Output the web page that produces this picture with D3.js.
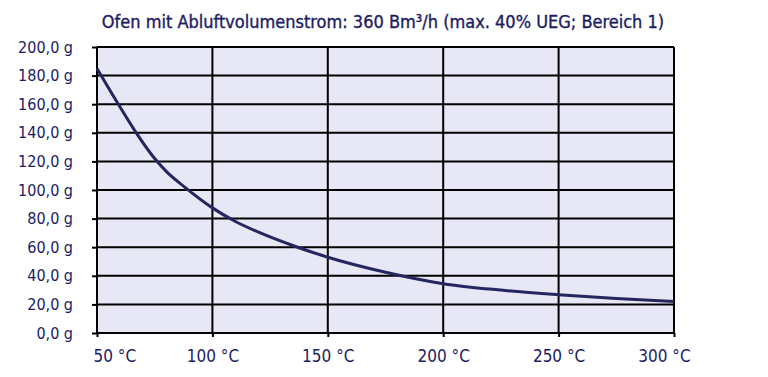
<!DOCTYPE html>
<html lang="de">
<head>
<meta charset="UTF-8">
<title>Ofen mit Abluftvolumenstrom</title>
<script src="https://d3js.org/d3.v7.min.js"></script>
<style>
    body { margin: 0; background: #fff; }
    text { font-family: "DejaVu Sans Condensed", "DejaVu Sans", sans-serif; font-stretch: condensed; fill: #1c1c62; }
    .title { font-size: 18px; stroke: #1c1c62; stroke-width: 0.35px; }
    .axis text { font-size: 17px; }
    .y.axis text { font-size: 16px; }
    .axis .domain { display: none; }
    .axis line { stroke: #000; stroke-width: 2; }
</style>
</head>
<body>
<div id="chart"></div>
<script>
    const chartTitle = "Ofen mit Abluftvolumenstrom: 360 Bm³/h (max. 40% UEG; Bereich 1)";
    const temps  = [50, 60, 67, 75, 80, 88, 100, 110, 120, 136, 150, 175, 200, 225, 250, 275, 300];
    const masses = [185, 158, 140, 122, 113, 102, 87.5, 78, 70.5, 60.5, 53, 42.5, 34.5, 30, 26.8, 24.2, 22];
    const xTicks = [50, 100, 150, 200, 250, 300];
    const yTicks = [0, 20, 40, 60, 80, 100, 120, 140, 160, 180, 200];

    const W = 768, H = 377;
    const margin = { top: 47, right: 94, bottom: 44, left: 97 };
    const width = W - margin.left - margin.right;
    const height = H - margin.top - margin.bottom;

    const svg = d3.select("#chart").append("svg")
        .attr("width", W)
        .attr("height", H);

    const title = svg.append("text")
        .attr("class", "title")
        .attr("x", 383)
        .attr("y", 28)
        .attr("text-anchor", "middle")
        .text(chartTitle);

    const g = svg.append("g")
        .attr("transform", `translate(${margin.left},${margin.top})`);

    const x = d3.scaleLinear().domain([50, 300]).range([0, width]);
    const y = d3.scaleLinear().domain([0, 200]).range([height, 0]);

    // plot background
    g.append("rect")
        .attr("width", width)
        .attr("height", height)
        .attr("fill", "#e7e7f5");

    // grid lines
    g.append("g").selectAll("line")
        .data(yTicks)
        .join("line")
        .attr("x1", 0).attr("x2", width)
        .attr("y1", d => y(d)).attr("y2", d => y(d))
        .attr("stroke", "#000").attr("stroke-width", 2);

    g.append("g").selectAll("line")
        .data(xTicks)
        .join("line")
        .attr("x1", d => x(d)).attr("x2", d => x(d))
        .attr("y1", 0).attr("y2", height)
        .attr("stroke", "#000").attr("stroke-width", 2);

    // axes
    const yAxis = g.append("g")
        .attr("class", "y axis")
        .call(d3.axisLeft(y).tickValues(yTicks).tickSize(5).tickPadding(19)
            .tickFormat(d => d3.format(".1f")(d).replace(".", ",") + " g"));

    const xAxis = g.append("g")
        .attr("class", "x axis")
        .attr("transform", `translate(0,${height})`)
        .call(d3.axisBottom(x).tickValues(xTicks).tickSize(4).tickPadding(10)
            .tickFormat(d => d + " °C"));

    xAxis.selectAll("text").attr("dy", "0.9em");
    xAxis.selectAll(".tick").filter(d => d === 50).select("text")
        .attr("text-anchor", "start").attr("x", -4);
    xAxis.selectAll(".tick").filter(d => d === 300).select("text")
        .attr("x", -10);

    // curve
    const line = d3.line()
        .x((d, i) => x(temps[i]))
        .y(d => y(d))
        .curve(d3.curveMonotoneX);

    g.append("path")
        .datum(masses)
        .attr("fill", "none")
        .attr("stroke", "#25255f")
        .attr("stroke-width", 3)
        .attr("d", line);

    console.log("title width", title.node().getBBox().width);
</script>
</body>
</html>
